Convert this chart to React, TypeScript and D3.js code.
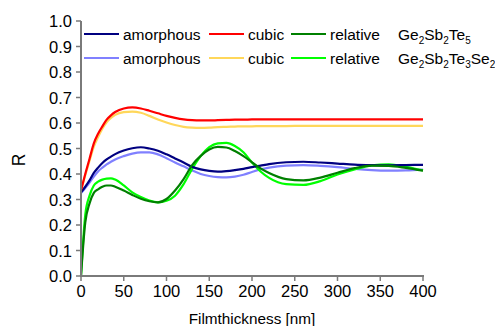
import React from "react";
import * as d3 from "d3";

const thickness = [0, 5, 10, 15, 20, 25, 30, 35, 40, 50, 60, 70, 80, 90, 100, 110, 120, 130, 140, 150, 160, 170, 180, 190, 200, 210, 220, 240, 260, 280, 300, 320, 340, 360, 380, 400];

const amorphousGST = [0.328, 0.35, 0.375, 0.404, 0.425, 0.443, 0.457, 0.468, 0.478, 0.492, 0.501, 0.505, 0.5, 0.491, 0.477, 0.461, 0.445, 0.428, 0.418, 0.412, 0.409, 0.411, 0.415, 0.42, 0.427, 0.433, 0.439, 0.446, 0.448, 0.445, 0.441, 0.437, 0.435, 0.434, 0.435, 0.436];
const cubicGST = [0.335, 0.4, 0.46, 0.52, 0.558, 0.587, 0.613, 0.63, 0.643, 0.657, 0.661, 0.657, 0.648, 0.638, 0.628, 0.62, 0.614, 0.611, 0.61, 0.61, 0.611, 0.612, 0.613, 0.613, 0.614, 0.614, 0.614, 0.614, 0.614, 0.614, 0.614, 0.614, 0.614, 0.614, 0.614, 0.614];
const relativeGST = [0, 0.21, 0.285, 0.326, 0.34, 0.35, 0.355, 0.355, 0.35, 0.335, 0.318, 0.303, 0.293, 0.289, 0.302, 0.335, 0.38, 0.435, 0.471, 0.496, 0.506, 0.504, 0.49, 0.47, 0.446, 0.422, 0.404, 0.38, 0.375, 0.386, 0.405, 0.423, 0.433, 0.432, 0.424, 0.413];

const amorphousGSTSe = [0.325, 0.345, 0.366, 0.39, 0.41, 0.425, 0.438, 0.448, 0.457, 0.47, 0.48, 0.485, 0.485, 0.477, 0.462, 0.445, 0.43, 0.414, 0.4, 0.392, 0.388, 0.387, 0.39, 0.397, 0.408, 0.418, 0.425, 0.433, 0.435, 0.432, 0.427, 0.42, 0.415, 0.413, 0.414, 0.417];
const cubicGSTSe = [0.335, 0.395, 0.452, 0.507, 0.545, 0.578, 0.603, 0.62, 0.632, 0.643, 0.645, 0.64, 0.628, 0.614, 0.602, 0.592, 0.585, 0.582, 0.581, 0.582, 0.584, 0.585, 0.586, 0.587, 0.587, 0.588, 0.588, 0.588, 0.589, 0.589, 0.589, 0.589, 0.589, 0.589, 0.589, 0.589];
const relativeGSTSe = [0, 0.24, 0.315, 0.355, 0.37, 0.378, 0.382, 0.383, 0.378, 0.355, 0.328, 0.31, 0.296, 0.289, 0.295, 0.315, 0.36, 0.42, 0.47, 0.505, 0.52, 0.522, 0.51, 0.485, 0.445, 0.41, 0.385, 0.36, 0.357, 0.372, 0.398, 0.418, 0.434, 0.438, 0.428, 0.414];

const xTicks = [0, 50, 100, 150, 200, 250, 300, 350, 400];
const yTicks = [0, 0.1, 0.2, 0.3, 0.4, 0.5, 0.6, 0.7, 0.8, 0.9, 1.0];

const legendRow1 = ["amorphous", "cubic", "relative"];
const legendRow2 = ["amorphous", "cubic", "relative"];

const colorsRow1 = ["#000080", "#ff0000", "#008000"];
const colorsRow2 = ["#8080ff", "#ffd75a", "#00ff00"];

const FONT = "Arial, 'Liberation Sans', Helvetica, sans-serif";
const AXIS = "#7a7a7a";

export default function App() {
  const x = d3.scaleLinear().domain([0, 400]).range([81, 423]);
  const y = d3.scaleLinear().domain([0, 1]).range([276, 21]);

  const line = d3
    .line<number>()
    .x((_, i) => x(thickness[i]))
    .y((d) => y(d))
    .curve(d3.curveMonotoneX);

  const row2Series = [amorphousGSTSe, cubicGSTSe, relativeGSTSe];
  const row1Series = [amorphousGST, cubicGST, relativeGST];

  const legendLineX = [84, 209, 291];
  const legendRowsY = [34, 58];

  return (
    <svg
      width={495}
      height={326}
      style={{ position: "absolute", left: 0, top: 0, background: "#fff" }}
      fontFamily={FONT}
    >
      <rect x={0} y={0} width={495} height={326} fill="#fff" />
      {row2Series.map((s, i) => (
        <path key={"b" + i} d={line(s) || ""} fill="none" stroke={colorsRow2[i]} strokeWidth={2.2} />
      ))}
      {row1Series.map((s, i) => (
        <path key={"a" + i} d={line(s) || ""} fill="none" stroke={colorsRow1[i]} strokeWidth={2.2} />
      ))}

      {/* axes */}
      <line x1={x(0)} x2={x(0)} y1={y(1)} y2={y(0) + 1} stroke={AXIS} strokeWidth={2} />
      <line x1={x(0) - 1} x2={x(400) + 1} y1={y(0)} y2={y(0)} stroke={AXIS} strokeWidth={2} />
      {yTicks.map((t) => (
        <g key={"y" + t}>
          <line x1={x(0) - 5} x2={x(0)} y1={y(t)} y2={y(t)} stroke={AXIS} strokeWidth={1.5} />
          <text x={72} y={y(t) + 6} textAnchor="end" fontSize={16.5} fill="#000">
            {t.toFixed(1)}
          </text>
        </g>
      ))}
      {xTicks.map((t) => (
        <g key={"x" + t}>
          <line x1={x(t)} x2={x(t)} y1={y(0)} y2={y(0) + 5} stroke={AXIS} strokeWidth={1.5} />
          <text x={x(t)} y={297} textAnchor="middle" fontSize={16.5} fill="#000">
            {t}
          </text>
        </g>
      ))}

      <text x={252} y={324} textAnchor="middle" fontSize={15.3} fill="#000">
        Filmthickness [nm]
      </text>
      <text transform="translate(25,160) rotate(-90)" textAnchor="middle" fontSize={17.5} fill="#000">
        R
      </text>

      {/* legend */}
      {[legendRow1, legendRow2].map((row, r) =>
        row.map((label, i) => (
          <g key={"l" + r + i}>
            <line
              x1={legendLineX[i]}
              x2={legendLineX[i] + 35}
              y1={legendRowsY[r]}
              y2={legendRowsY[r]}
              stroke={r === 0 ? colorsRow1[i] : colorsRow2[i]}
              strokeWidth={2.2}
            />
            <text x={legendLineX[i] + 39} y={legendRowsY[r] + 5.5} fontSize={15.5} fill="#000">
              {label}
            </text>
          </g>
        ))
      )}
      <text x={398} y={legendRowsY[0] + 5.5} fontSize={15.5} fill="#000">
        Ge<tspan fontSize={10} dy={4}>2</tspan>
        <tspan dy={-4}>Sb</tspan>
        <tspan fontSize={10} dy={4}>2</tspan>
        <tspan dy={-4}>Te</tspan>
        <tspan fontSize={10} dy={4}>5</tspan>
      </text>
      <text x={398} y={legendRowsY[1] + 5.5} fontSize={15.5} fill="#000">
        Ge<tspan fontSize={10} dy={4}>2</tspan>
        <tspan dy={-4}>Sb</tspan>
        <tspan fontSize={10} dy={4}>2</tspan>
        <tspan dy={-4}>Te</tspan>
        <tspan fontSize={10} dy={4}>3</tspan>
        <tspan dy={-4}>Se</tspan>
        <tspan fontSize={10} dy={4}>2</tspan>
      </text>
    </svg>
  );
}
